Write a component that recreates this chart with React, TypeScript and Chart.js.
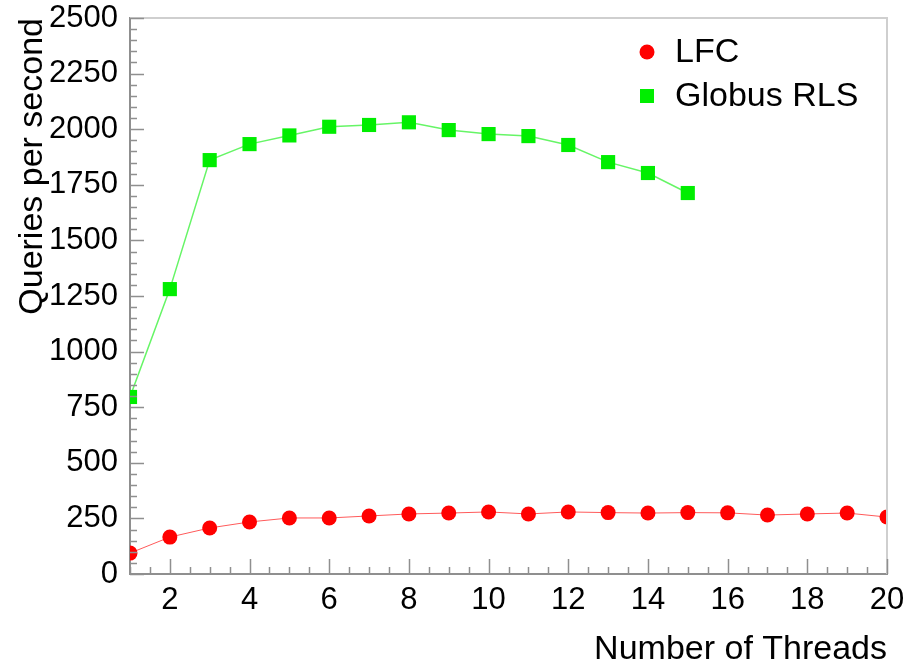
import React, { useEffect, useRef } from 'react';
import { Chart, registerables } from 'chart.js';

Chart.register(...registerables);

// ---- data ----
const lfcThreads = [1, 2, 3, 4, 5, 6, 7, 8, 9, 10, 11, 12, 13, 14, 15, 16, 17, 18, 19, 20];
const lfcQps = [94, 166, 207, 234, 252, 252, 261, 270, 274, 279, 270, 279, 276, 274, 276, 275, 265, 270, 274, 256];
const globusThreads = [1, 2, 3, 4, 5, 6, 7, 8, 9, 10, 11, 12, 13, 14, 15];
const globusQps = [796, 1281, 1861, 1933, 1972, 2011, 2019, 2031, 1996, 1978, 1969, 1929, 1852, 1803, 1713];
const xTickValues = [2, 4, 6, 8, 10, 12, 14, 16, 18, 20];
const yTickValues = [0, 250, 500, 750, 1000, 1250, 1500, 1750, 2000, 2250, 2500];
const seriesNames = ['LFC', 'Globus RLS'];

const FONT = "'Liberation Sans', Arial, Helvetica, sans-serif";
const AXIS_GREY = '#8f8f8f';

const framePlugin = {
  id: 'rootFrame',
  afterDatasetsDraw(chart: any) {
    const ctx = chart.ctx;
    const { left, right, top, bottom } = chart.chartArea;
    const xs = chart.scales.x;
    const ys = chart.scales.y;
    ctx.save();
    ctx.strokeStyle = '#cfcfcf';
    ctx.lineWidth = 2;
    ctx.beginPath();
    ctx.moveTo(left, top);
    ctx.lineTo(right, top);
    ctx.lineTo(right, bottom);
    ctx.stroke();
    ctx.strokeStyle = AXIS_GREY;
    ctx.lineWidth = 1.5;
    ctx.beginPath();
    for (let v = xs.min; v <= xs.max + 1e-9; v += 0.5) {
      const px = Math.round(xs.getPixelForValue(v)) + 0.5;
      const major = Math.abs(v / 2 - Math.round(v / 2)) < 1e-9;
      const len = major ? 15 : 7;
      ctx.moveTo(px, bottom);
      ctx.lineTo(px, bottom - len);
    }
    for (let v = ys.min; v <= ys.max + 1e-9; v += 50) {
      const py = Math.round(ys.getPixelForValue(v)) + 0.5;
      const major = v % 250 === 0;
      const len = major ? 14 : 7;
      ctx.moveTo(left, py);
      ctx.lineTo(left + len, py);
    }
    ctx.stroke();
    ctx.restore();
  },
  afterDraw(chart: any) {
    const ctx = chart.ctx;
    ctx.save();
    ctx.font = `34px ${FONT}`;
    ctx.textBaseline = 'middle';
    const markerX = 647;
    const textX = 675;
    const rows = [52, 96];
    chart.data.datasets.forEach((ds: any, i: number) => {
      const y = rows[i];
      ctx.fillStyle = ds.pointBackgroundColor;
      ctx.beginPath();
      if (ds.pointStyle === 'rect') {
        ctx.rect(markerX - 7, y - 7, 14, 14);
      } else {
        ctx.arc(markerX, y, 7.5, 0, Math.PI * 2);
      }
      ctx.fill();
      ctx.fillStyle = '#000';
      ctx.fillText(ds.label, textX, y + 1);
    });
    ctx.restore();
  },
};

export default function App() {
  const canvasRef = useRef<HTMLCanvasElement | null>(null);

  useEffect(() => {
    document.body.style.margin = '0';
    const canvas = canvasRef.current;
    if (!canvas) return;
    const chart = new Chart(canvas, {
      type: 'line',
      data: {
        datasets: [
          {
            label: seriesNames[0],
            data: lfcThreads.map((t, i) => ({ x: t, y: lfcQps[i] })),
            borderColor: '#ff5a5a',
            borderWidth: 1,
            pointStyle: 'circle',
            pointRadius: 7.5,
            pointBackgroundColor: '#ff0000',
            pointBorderColor: '#ff0000',
            pointBorderWidth: 0,
            clip: 0,
          } as any,
          {
            label: seriesNames[1],
            data: globusThreads.map((t, i) => ({ x: t, y: globusQps[i] })),
            borderColor: '#66f566',
            borderWidth: 1.5,
            pointStyle: 'rect',
            pointRadius: 10,
            pointBackgroundColor: '#00ee00',
            pointBorderColor: '#00ee00',
            pointBorderWidth: 0,
            clip: 0,
          } as any,
        ],
      },
      options: {
        animation: false,
        responsive: false,
        maintainAspectRatio: false,
        layout: { padding: { top: 18, right: 28, left: 0, bottom: 0 } },
        plugins: {
          legend: { display: false },
          tooltip: { enabled: false },
        },
        scales: {
          x: {
            type: 'linear',
            min: 1,
            max: 20,
            afterBuildTicks: (scale: any) => {
              scale.ticks = xTickValues.map((v) => ({ value: v }));
            },
            afterFit: (scale: any) => {
              scale.height = 88;
            },
            grid: { display: false, drawTicks: false },
            border: { display: true, color: AXIS_GREY, width: 2 },
            ticks: {
              font: { family: FONT, size: 31 },
              color: '#000',
              padding: 8,
              maxRotation: 0,
              autoSkip: false,
              callback: (v: any) => String(v),
            },
            title: {
              display: true,
              text: 'Number of Threads',
              align: 'end',
              color: '#000',
              font: { family: FONT, size: 34, lineHeight: 0.7 },
              padding: { top: 0, bottom: 0 },
            },
          },
          y: {
            type: 'linear',
            min: 0,
            max: 2500,
            afterBuildTicks: (scale: any) => {
              scale.ticks = yTickValues.map((v) => ({ value: v }));
            },
            afterFit: (scale: any) => {
              scale.width = 130;
              scale.paddingTop = 18;
            },
            grid: { display: false, drawTicks: false },
            border: { display: true, color: AXIS_GREY, width: 2 },
            ticks: {
              font: { family: FONT, size: 31 },
              color: '#000',
              padding: 12,
              autoSkip: false,
              callback: (v: any) => String(v),
            },
            title: {
              display: true,
              text: 'Queries per second',
              align: 'end',
              color: '#000',
              font: { family: FONT, size: 34, lineHeight: 1 },
              padding: { top: 16, bottom: 0 },
            },
          },
        },
      } as any,
      plugins: [framePlugin],
    });
    return () => chart.destroy();
  }, []);

  return (
    <div style={{ width: 915, height: 662, background: '#fff' }}>
      <canvas ref={canvasRef} width={915} height={662} style={{ display: 'block' }} />
    </div>
  );
}
